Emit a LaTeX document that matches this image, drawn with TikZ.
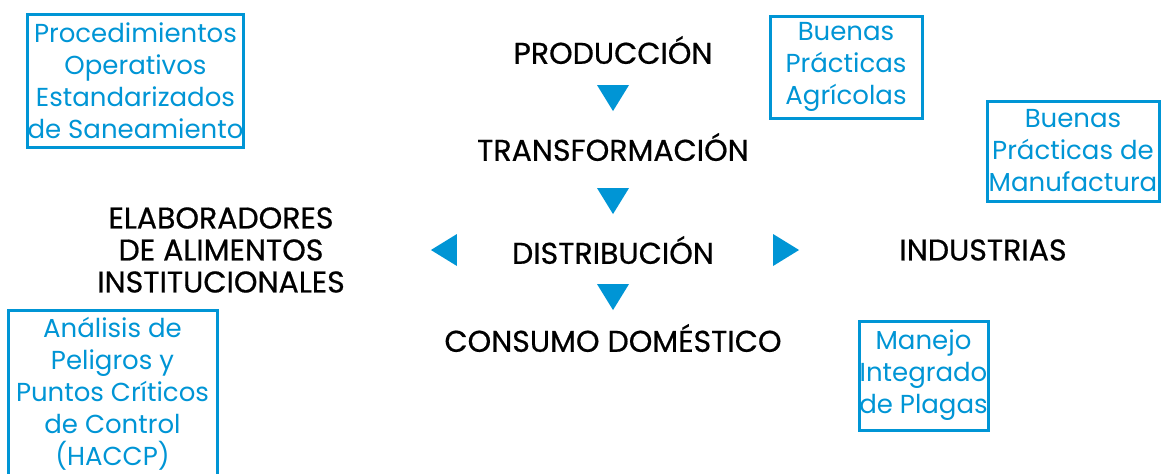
\documentclass[tikz,border=0pt]{standalone}
\usepackage{fontspec}
\setmainfont{Poppins}
\newfontfamily\stagefont[FakeBold=0.6]{Poppins}
\usetikzlibrary{shapes.geometric}
\definecolor{fao_blue}{HTML}{0095D5}
\tikzset{
	treenode/.style = {
		align=center,
		inner sep=0pt,
		text centered,
		font=\fontsize{13}{16}\selectfont
	},
	node_stage/.style = {
		treenode,
		text=black,
		font=\stagefont\fontsize{15}{16}\selectfont
	},
	node_std/.style = {
		treenode,
		rectangle,
		draw=fao_blue,
		text=fao_blue,
		line width=1.5pt
	},
	node_tri/.style = {
		isosceles triangle,
		isosceles triangle stretches,
		inner sep=0pt,
		fill=fao_blue,
		minimum width=16pt,
		minimum height=13pt
	},
}

\begin{document}
\begin{tikzpicture}[x=0.5pt,y=-0.5pt]
\useasboundingbox (0,0) rectangle (1161,473);
% etapas
\node [node_stage] (prod) at (613,50) {PRODUCCIÓN};
\node [node_stage] (trans) at (613,147) {TRANSFORMACIÓN};
\node [node_stage] (dist) at (613,250) {DISTRIBUCIÓN};
\node [node_stage] (cons) at (613,338) {CONSUMO DOMÉSTICO};
\node [node_stage] (ind) at (983,250) {INDUSTRIAS};
\node [node_stage] (elab) at (221,250) {ELABORADORES\\DE ALIMENTOS\\INSTITUCIONALES};
% flechas
\node [node_tri, shape border rotate=270] (t1) at (613,94) {};
\node [node_tri, shape border rotate=270] (t2) at (613,197) {};
\node [node_tri, shape border rotate=270] (t3) at (613,293) {};
\node [node_tri, shape border rotate=180] (t4) at (448,250) {};
\node [node_tri] (t5) at (782,250) {};
% normas
\node [node_std, minimum width=107.5pt, minimum height=66.5pt] (poes) at (135.5,80.5)
	{Procedimientos\\Operativos\\Estandarizados\\de Saneamiento};
\node [node_std, minimum width=76pt, minimum height=51pt] (bpa) at (846,67)
	{Buenas\\Prácticas\\Agrícolas};
\node [node_std, minimum width=86pt, minimum height=50pt] (bpm) at (1073,151)
	{Buenas\\Prácticas de\\Manufactura};
\node [node_std, minimum width=104.5pt, minimum height=84pt] (haccp) at (112.5,394)
	{Análisis de\\Peligros y\\Puntos Críticos\\de Control\\(HACCP)};
\node [node_std, minimum width=64.5pt, minimum height=54.5pt] (mip) at (923.5,375.5)
	{Manejo\\Integrado\\de Plagas};
\end{tikzpicture}
\end{document}
